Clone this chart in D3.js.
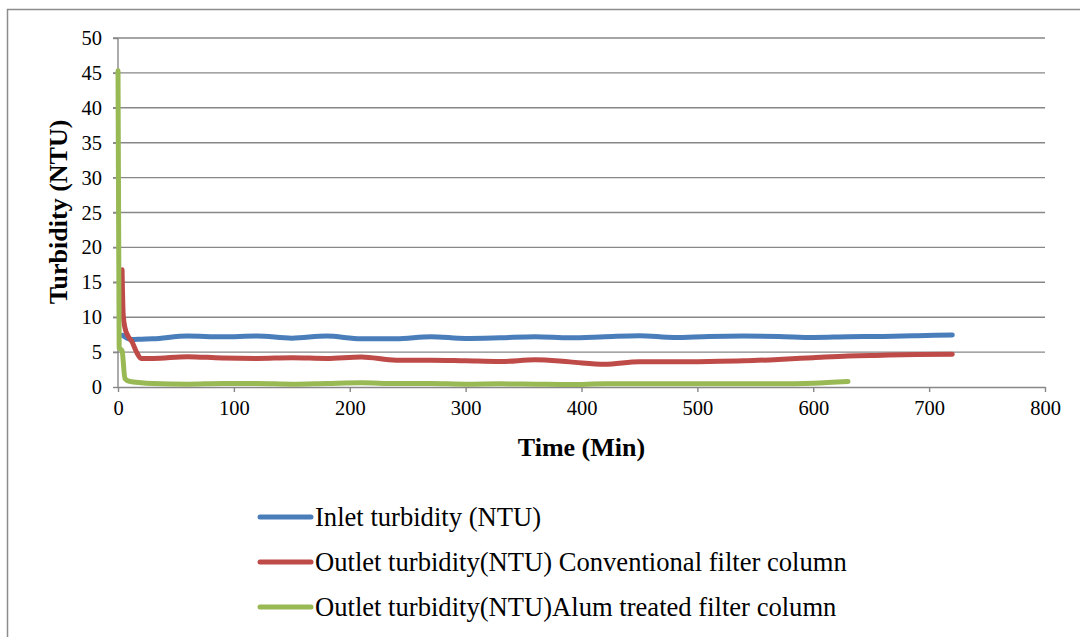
<!DOCTYPE html>
<html>
<head>
    <meta http-equiv="Content-Type" content="text/html;charset=utf-8">
    <title>Turbidity over time</title>
    <script type="text/javascript" src="https://d3js.org/d3.v7.min.js"></script>
    <style>
        html, body {
            margin: 0;
            padding: 0;
            background: #fff;
        }
        svg text {
            font-family: "Liberation Serif", "Times New Roman", serif;
            fill: #000;
        }
        text.axisTitle {
            font-size: 26px;
            font-weight: bold;
        }
        text.legendText {
            font-size: 26.6px;
        }
        path.line {
            fill: none;
            stroke-width: 5px;
            stroke-linejoin: round;
            stroke-linecap: round;
        }
        .grid line {
            stroke: #878787;
            stroke-width: 1.4px;
        }
    </style>
</head>
<body>
<script type="text/javascript">

    // readings every half hour after the first few minutes
    var halfHourTimes = [30, 60, 90, 120, 150, 180, 210, 240, 270, 300, 330, 360,
        390, 420, 450, 480, 510, 540, 570, 600, 630, 660, 690, 720];

    var inletTimes = [4, 12, 20].concat(halfHourTimes);
    var inletValues = [7.4, 6.8, 6.85,
        6.9, 7.3, 7.2, 7.3, 7.0, 7.3, 6.9, 6.9, 7.2, 6.95, 7.05, 7.2,
        7.05, 7.2, 7.35, 7.1, 7.25, 7.3, 7.25, 7.1, 7.2, 7.25, 7.35, 7.45];

    var conventionalTimes = [3.5, 4.5, 6, 9, 12, 16, 20].concat(halfHourTimes);
    var conventionalValues = [16.8, 10.3, 8.5, 7.2, 6.5, 5.0, 4.1,
        4.1, 4.35, 4.15, 4.1, 4.2, 4.1, 4.3, 3.85, 3.85, 3.75, 3.65, 3.9,
        3.6, 3.25, 3.6, 3.6, 3.65, 3.75, 3.95, 4.2, 4.45, 4.55, 4.65, 4.7];

    var alumTimes = [0, 1, 3.5, 6, 10, 20].concat(halfHourTimes.slice(0, 21));
    var alumValues = [45.3, 5.6, 5.2, 1.2, 0.8, 0.6,
        0.5, 0.4, 0.5, 0.5, 0.4, 0.5, 0.6, 0.5, 0.5, 0.4, 0.45, 0.4,
        0.35, 0.45, 0.45, 0.45, 0.45, 0.45, 0.45, 0.55, 0.8];

    var seriesNames = [
        "Inlet turbidity (NTU)",
        "Outlet turbidity(NTU) Conventional filter column",
        "Outlet turbidity(NTU)Alum treated filter column"
    ];
    var colorTable = ["#4a7ebb", "#be4b48", "#98b954"];

    var xTicks = [0, 100, 200, 300, 400, 500, 600, 700, 800];
    var yTicks = [0, 5, 10, 15, 20, 25, 30, 35, 40, 45, 50];

    var series = [
        {name: seriesNames[0], values: inletTimes.map(function (t, i) { return {t: t, v: inletValues[i]}; })},
        {name: seriesNames[1], values: conventionalTimes.map(function (t, i) { return {t: t, v: conventionalValues[i]}; })},
        {name: seriesNames[2], values: alumTimes.map(function (t, i) { return {t: t, v: alumValues[i]}; })}
    ];

    var serif = "'Liberation Serif', 'Times New Roman', serif";
    var width = 1080, height = 637;
    var plot = {left: 118, right: 1045, top: 38, bottom: 387};

    var svg = d3.select("body").append("svg")
        .attr("width", width)
        .attr("height", height)
        .attr("font-family", serif);

    // outer frame (only top and left edges are visible)
    svg.append("path")
        .attr("d", "M7.5," + height + "V9.5H" + width)
        .style("fill", "none")
        .style("stroke", "#8c8c8c")
        .style("stroke-width", 1.5);

    var x = d3.scaleLinear().domain([0, 800]).range([plot.left, plot.right]);
    var y = d3.scaleLinear().domain([0, 50]).range([plot.bottom, plot.top]);

    // horizontal gridlines
    svg.append("g")
        .attr("class", "grid")
        .selectAll("line")
        .data(yTicks.slice(1)).enter()
        .append("line")
        .attr("x1", plot.left - 5)
        .attr("x2", plot.right)
        .attr("y1", function (d) { return y(d); })
        .attr("y2", function (d) { return y(d); });

    // y axis
    var yAxis = svg.append("g")
        .attr("transform", "translate(" + plot.left + ",0)")
        .call(d3.axisLeft(y).tickValues(yTicks).tickSize(5).tickPadding(11));
    yAxis.attr("font-family", serif).attr("font-size", 20.5);
    yAxis.selectAll("path, line").style("stroke", "#878787").style("stroke-width", 1.4);
    yAxis.select(".domain").attr("d", "M0," + plot.top + "V" + plot.bottom);

    // x axis
    var xAxis = svg.append("g")
        .attr("transform", "translate(0," + plot.bottom + ")")
        .call(d3.axisBottom(x).tickValues(xTicks).tickSize(5).tickSizeOuter(0).tickPadding(5));
    xAxis.attr("font-family", serif).attr("font-size", 20.5);
    xAxis.selectAll("path, line").style("stroke", "#878787").style("stroke-width", 1.4);
    xAxis.selectAll(".tick text").attr("dy", "0.9em");

    // lines
    var line = d3.line()
        .x(function (d) { return x(d.t); })
        .y(function (d) { return y(d.v); })
        .curve(d3.curveMonotoneX);

    svg.selectAll(".line")
        .data(series).enter()
        .append("path")
        .attr("class", "line")
        .attr("d", function (d) { return line(d.values); })
        .style("stroke", function (d, i) { return colorTable[i]; });

    // axis titles
    svg.append("text")
        .attr("class", "axisTitle")
        .attr("text-anchor", "middle")
        .attr("x", (plot.left + plot.right) / 2)
        .attr("y", 456)
        .text("Time (Min)");

    svg.append("text")
        .attr("class", "axisTitle")
        .attr("text-anchor", "middle")
        .attr("transform", "translate(67,212) rotate(-90)")
        .text("Turbidity (NTU)");

    // legend
    var legend = svg.selectAll(".legend")
        .data(series).enter()
        .append("g")
        .attr("class", "legend")
        .attr("transform", function (d, i) { return "translate(258," + (517 + i * 45) + ")"; });

    legend.append("line")
        .attr("x1", 2).attr("x2", 53)
        .attr("y1", 0).attr("y2", 0)
        .style("stroke", function (d, i) { return colorTable[i]; })
        .style("stroke-width", 5)
        .style("stroke-linecap", "round");

    legend.append("text")
        .attr("class", "legendText")
        .attr("x", 57)
        .attr("y", 9)
        .text(function (d) { return d.name; });

</script>
</body>
</html>
